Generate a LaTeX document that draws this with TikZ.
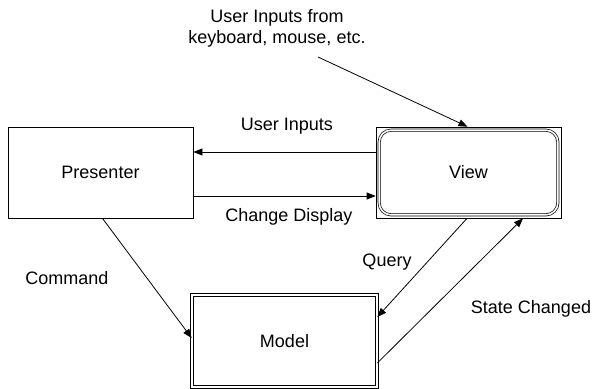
\documentclass[tikz,border=0pt]{standalone}
\usepackage{fontspec}
\setmainfont{Liberation Sans}
\usetikzlibrary{arrows.meta}
\begin{document}
\begin{tikzpicture}[x=1pt,y=-1pt,
  box/.style={draw, line width=0.9pt, minimum width=185pt, minimum height=91pt, inner sep=0pt, font=\fontsize{18}{21}\selectfont},
  lbl/.style={font=\fontsize{18}{21}\selectfont, inner sep=0pt, align=center},
  arr/.style={line width=0.8pt, -{Triangle[length=9pt,width=7pt]}}]
\useasboundingbox (0,0) rectangle (594,388);
\fill[white] (0,0) rectangle (594,388);
\node[box] (P) at (100.5,172.5) {Presenter};
\node[box, line width=0.7pt] (V) at (468.5,172.5) {View};
\draw[line width=0.7pt, double, double distance=1.6pt, rounded corners=12pt]
  ([shift={(3.5pt,-3.5pt)}]V.north west) rectangle ([shift={(-3.5pt,3.5pt)}]V.south east);
\node[box, minimum height=92pt, line width=0.7pt, double, double distance=1.8pt] (M) at (284.5,341) {Model};
\node[lbl] (kb) at (277,28) {User Inputs from\\keyboard, mouse, etc.};
\coordinate (kbs) at (318,57);
\node[lbl] (ui) at (287,126) {User Inputs};
\node[lbl] (cd) at (289,217) {Change Display};
\node[lbl] (cm) at (67,278) {Command};
\node[lbl] (q) at (387,262) {Query};
\node[lbl] (sc) at (531,309) {State Changed};
\draw[arr] (kbs) -- ([xshift=-1pt]V.north);
\draw[arr] ([yshift=20.5pt]V.west) -- ([yshift=20.5pt]P.east);
\draw[arr] ([yshift=-23.5pt]P.east) -- ([yshift=-23.5pt]V.west);
\draw[arr] ([xshift=2pt]P.south) -- ([yshift=3pt]M.west);
\draw[arr] ([xshift=-1.5pt]V.south) -- ([yshift=24pt]M.east);
\draw[arr] ([yshift=-22pt]M.east) -- ([xshift=54.5pt]V.south);
\end{tikzpicture}
\end{document}
